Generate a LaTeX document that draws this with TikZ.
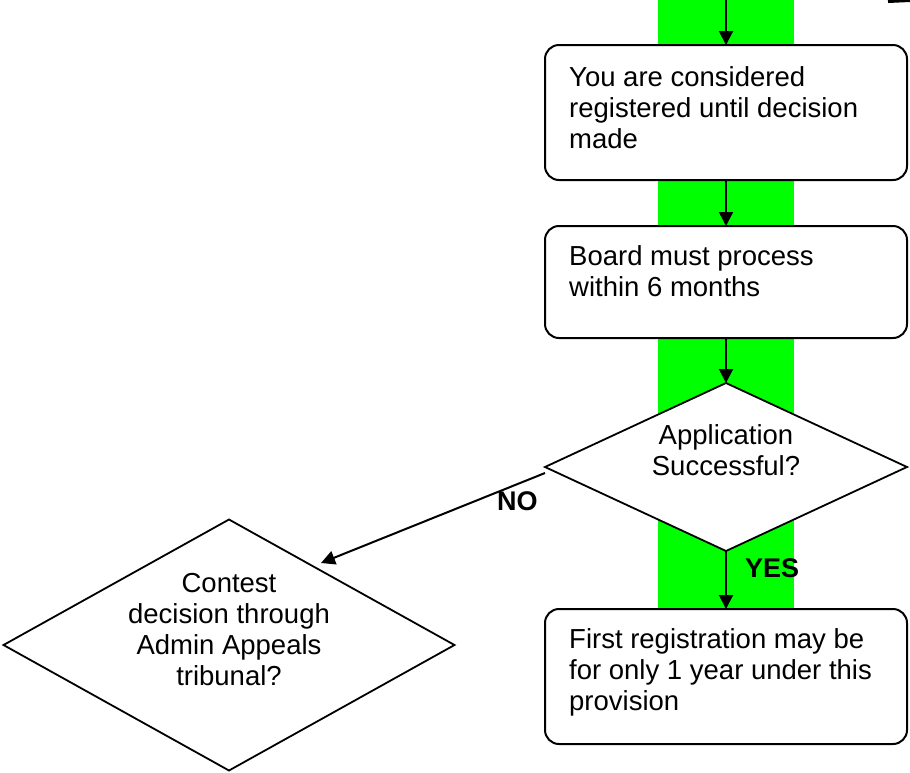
\documentclass[tikz,border=0pt]{standalone}
\usepackage{fontspec}
\setmainfont{Liberation Sans}
\usetikzlibrary{shapes.geometric,arrows.meta}
\definecolor{bandgreen}{RGB}{0,255,0}
\tikzset{
  stepbox/.style={draw=black, line width=2pt, rounded corners=14pt, fill=white, rectangle,
    minimum width=362pt, inner sep=0pt, outer sep=0pt},
  decide/.style={draw=black, line width=1.8pt, fill=white, diamond, inner sep=0pt, outer sep=0pt},
  txt/.style={inner sep=0pt, font=\fontsize{27.5}{31}\selectfont},
  lbl/.style={inner sep=0pt, font=\fontsize{27}{31}\selectfont\bfseries, anchor=base west},
  conn/.style={draw=black, line width=2pt, -{Triangle[width=14pt,length=14pt]}}
}
\begin{document}
\begin{tikzpicture}[x=1pt,y=-1pt]
\useasboundingbox (0,0) rectangle (910,772);
% green band
\fill[bandgreen] (658,0) rectangle (794,609);
% small mark top right
\draw[line width=3pt] (888,1.5) -- (910,0.5);
% shapes
\node[stepbox, minimum height=135pt] (b1) at (726,112.5) {};
\node[stepbox, minimum height=112pt] (b2) at (726,282) {};
\node[decide, minimum width=362pt, minimum height=168pt] (app) at (726,467) {};
\node[stepbox, minimum height=135pt] (b3) at (726,676.5) {};
\node[decide, minimum width=451pt, minimum height=251pt] (contest) at (229,645) {};
% texts
\node[txt, anchor=north west, align=left] (t1) at (569,64.3) {\strut You are considered\\registered until decision\\made};
\node[txt, anchor=north west, align=left] (t2) at (569,243.3) {\strut Board must process\\within 6 months};
\node[txt, anchor=north, align=center] (t3) at (726,422.3) {\strut Application\\Successful?};
\node[txt, anchor=north west, align=left] (t4) at (569,626.3) {\strut First registration may be\\for only 1 year under this\\provision};
\node[txt, anchor=north, align=center] (t5) at (229,570.3) {\strut Contest\\decision through\\Admin Appeals\\tribunal?};
% connectors
\coordinate (top) at (726,0);
\coordinate (nostart) at (545,473);
\coordinate (noend) at (321,563);
\draw[conn] (top) -- (b1.north);
\draw[conn] (b1.south) -- (b2.north);
\draw[conn] (b2.south) -- (app.north);
\draw[conn] (app.south) -- (b3.north);
\draw[conn] (nostart) -- (noend);
% labels
\node[lbl] (no) at (497,510) {NO};
\node[lbl] (yes) at (745,577) {YES};
\end{tikzpicture}
\end{document}
